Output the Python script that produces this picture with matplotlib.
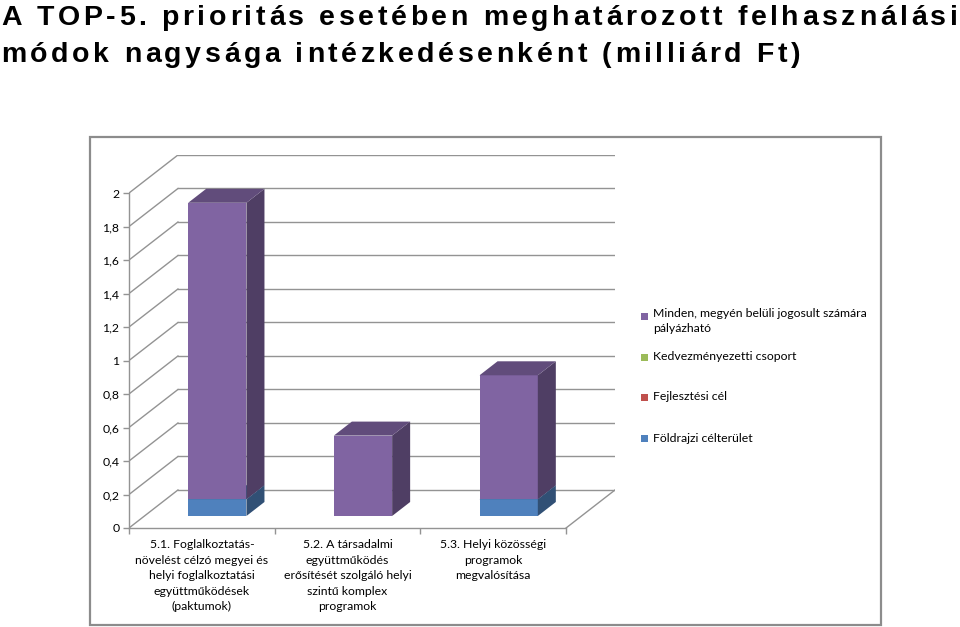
import matplotlib
matplotlib.use("Agg")
import matplotlib.pyplot as plt
from matplotlib.patches import Rectangle
from matplotlib.font_manager import FontProperties, findfont, get_font

W, H = 960, 627

title_lines = ["A TOP-5. prioritás esetében meghatározott felhasználási",
               "módok nagysága intézkedésenként (milliárd Ft)"]

categories = ["5.1. Foglalkoztatás-\nnövelést célzó megyei és\nhelyi foglalkoztatási\negyüttműködések\n(paktumok)",
              "5.2. A társadalmi\negyüttműködés\nerősítését szolgáló helyi\nszintű komplex\nprogramok",
              "5.3. Helyi közösségi\nprogramok\nmegvalósítása"]

# series, bottom -> top in the stack
foldrajzi = [0.10, 0.0, 0.10]
fejlesztesi = [0.0, 0.0, 0.0]
kedvezmenyezetti = [0.0, 0.0, 0.0]
minden = [1.77, 0.48, 0.74]

series_values = [foldrajzi, fejlesztesi, kedvezmenyezetti, minden]
series_names = ["Földrajzi célterület", "Fejlesztési cél", "Kedvezményezetti csoport",
                "Minden, megyén belüli jogosult számára\npályázható"]
series_colors = ["#4F81BD", "#C0504D", "#9BBB59", "#8064A2"]

yticks = [0, 0.2, 0.4, 0.6, 0.8, 1.0, 1.2, 1.4, 1.6, 1.8, 2.0]
ytick_labels = ["0", "0,2", "0,4", "0,6", "0,8", "1", "1,2", "1,4", "1,6", "1,8", "2"]

font = "Lato"
fsize = 8.8
grid_col = "#939393"

# oblique depth of the floor (data units) and bar placement in depth
DX, DY = 0.336, 0.227
F0, F1 = 0.316, 0.684
BW = 0.40


def darker(c, f):
    r, g, b = matplotlib.colors.to_rgb(c)
    return (r * f, g * f, b * f)


fig = plt.figure(figsize=(W / 100, H / 100), dpi=100)
fig.patch.set_facecolor("white")

# chart frame
fig.add_artist(Rectangle((90 / W, (H - 625) / H), (881 - 90) / W, (625 - 137) / H,
                         fill=False, ec="#8c8c8c", lw=1.6, transform=fig.transFigure))

ax = fig.add_axes([129 / W, (H - 528) / H, (615 - 129) / W, (528 - 155) / H])
ax.set_xlim(-0.5, 2.5 + DX)
ax.set_ylim(0, 2 + DY)
ax.patch.set_alpha(0)

# walls
x0, x1 = -0.5, len(categories) - 0.5
for v in yticks:
    ax.plot([x0, x0 + DX], [v, v + DY], color=grid_col, lw=1.0, zorder=1)
    ax.plot([x0 + DX, x1 + DX], [v + DY, v + DY], color=grid_col, lw=1.0, zorder=1)
ax.plot([x1, x1 + DX], [0, DY], color=grid_col, lw=1.0, zorder=1)

# 3d-looking stacked bars
xs = [i + F0 * DX for i in range(len(categories))]
bottoms = [0.0] * len(categories)
depth = F1 - F0
for vals, col in zip(series_values, series_colors):
    base = [b + F0 * DY for b in bottoms]
    ax.bar(xs, vals, BW, bottom=base, color=col, lw=0, zorder=3)
    for x, b, h in zip(xs, base, vals):
        if h <= 0:
            continue
        xl, xr, t = x - BW / 2, x + BW / 2, b + h
        ax.fill([xr, xr + depth * DX, xr + depth * DX, xr],
                [b, b + depth * DY, t + depth * DY, t],
                color=darker(col, 0.62), lw=0, zorder=3)
        ax.fill([xl, xr, xr + depth * DX, xl + depth * DX],
                [t, t, t + depth * DY, t + depth * DY],
                color=darker(col, 0.76), lw=0, zorder=3)
    bottoms = [b + v for b, v in zip(bottoms, vals)]

# axes
for s in ["top", "right"]:
    ax.spines[s].set_visible(False)
for s in ["left", "bottom"]:
    ax.spines[s].set_color(grid_col)
    ax.spines[s].set_linewidth(1.0)
ax.spines["left"].set_bounds(0, 2)
ax.spines["bottom"].set_bounds(x0, x1)

ax.set_yticks(yticks, ytick_labels)
ax.tick_params(axis="y", length=4, width=1.0, color=grid_col, pad=3, labelsize=fsize)
ax.set_xticks(range(len(categories)), categories)
ax.set_xticks([x0 + i for i in range(len(categories) + 1)], minor=True)
ax.tick_params(axis="x", which="major", length=0, pad=8, labelsize=fsize)
ax.tick_params(axis="x", which="minor", length=4, width=1.0, color=grid_col)
for lab in ax.get_xticklabels() + ax.get_yticklabels():
    lab.set_fontfamily(font)
for lab in ax.get_xticklabels():
    lab.set_linespacing(1.5)

# legend, top entry first
leg_y = [316, 357, 397, 438]
for name, col, y in zip(series_names[::-1], series_colors[::-1], leg_y):
    fig.add_artist(Rectangle((641 / W, (H - y - 3.5) / H), 7 / W, 7 / H,
                             color=col, lw=0, transform=fig.transFigure))
    if "\n" in name:
        fig.text(653 / W, (H - y + 8) / H, name, family=font, size=fsize, va="top",
                 linespacing=1.4)
    else:
        fig.text(653 / W, (H - y) / H, name, family=font, size=fsize, va="center")

# title with wide letter spacing
tsize = 20.5
tpath = findfont(FontProperties(family="Liberation Sans", weight="bold"))
tfont = get_font(tpath)
tfont.set_size(tsize, 100)


def advances(s):
    return [tfont.load_char(ord(c)).linearHoriAdvance / 65536 for c in s]


adv0 = advances(title_lines[0])
track = (957 - 1 - sum(adv0[:-1]) - adv0[-1] * 0.9) / (len(title_lines[0]) - 1)
for line, base_y in zip(title_lines, [25, 62]):
    x = 1.0
    for c, a in zip(line, advances(line)):
        if c != " ":
            fig.text(x / W, (H - base_y) / H, c, family="Liberation Sans",
                     weight="bold", size=tsize, va="baseline", ha="left")
        x += a + track

fig.savefig("out.png", dpi=100, facecolor="white")
